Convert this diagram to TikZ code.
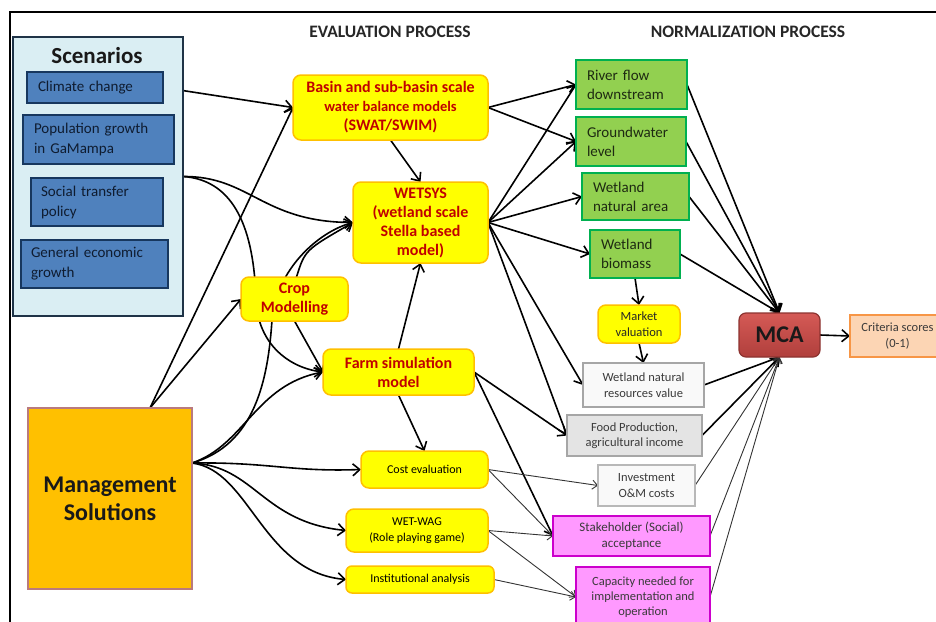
\documentclass[tikz,border=0pt]{standalone}
\usepackage{fontspec}
\setmainfont{Carlito}
\usetikzlibrary{arrows.meta}
\pgfdeclarelayer{bg}
\pgfsetlayers{bg,main}

\newcommand{\fsz}[2]{\fontsize{#1}{#2}\selectfont}

\definecolor{scenfill}{HTML}{DAEEF3}
\definecolor{scendraw}{HTML}{1F3347}
\definecolor{bluefill}{HTML}{4F81BD}
\definecolor{bluedraw}{HTML}{17375E}
\definecolor{bluetext}{HTML}{0F1C30}
\definecolor{yfill}{HTML}{FFFF00}
\definecolor{ydraw}{HTML}{FFC000}
\definecolor{redtext}{HTML}{C00000}
\definecolor{mgmtfill}{HTML}{FFC000}
\definecolor{mgmtdraw}{HTML}{B97A7E}
\definecolor{gfill}{HTML}{92D050}
\definecolor{gdraw}{HTML}{00B050}
\definecolor{gtext}{HTML}{1E2A12}
\definecolor{wfill}{HTML}{F9F9F9}
\definecolor{wdraw}{HTML}{A6A6A6}
\definecolor{foodfill}{HTML}{E4E4E4}
\definecolor{pfill}{HTML}{FF99FF}
\definecolor{pdraw}{HTML}{CC00CC}
\definecolor{mcatop}{HTML}{D55A56}
\definecolor{mcabot}{HTML}{B03F3C}
\definecolor{mcadraw}{HTML}{8C3330}
\definecolor{critfill}{HTML}{FCD5B4}
\definecolor{critdraw}{HTML}{F79646}
\definecolor{headtext}{HTML}{262626}
\definecolor{graytext}{HTML}{3A3A3A}
\definecolor{thinline}{HTML}{333333}

\tikzset{
  base/.style={inner sep=0pt, outer sep=0pt, anchor=center},
  bluebox/.style={base, draw=bluedraw, fill=bluefill, line width=1.5pt,
    inner xsep=11pt, align=left, text=bluetext, font=\fsz{15}{20}},
  ybox/.style={base, draw=ydraw, fill=yfill, line width=1.5pt,
    rounded corners=8pt, align=center},
  yred/.style={ybox, text=redtext, font=\bfseries\fsz{16}{19}},
  yplain/.style={ybox, text=black, font=\fsz{12}{16}},
  gbox/.style={base, draw=gdraw, fill=gfill, line width=1.5pt,
    inner xsep=11pt, align=left, text=gtext, font=\fsz{15}{19}},
  wbox/.style={base, draw=wdraw, fill=wfill, line width=1.5pt,
    align=center, text=graytext, font=\fsz{12.5}{15.5}},
  pbox/.style={base, draw=pdraw, fill=pfill, line width=1.5pt,
    align=center, text=graytext, font=\fsz{12.5}{15.5}},
  arr/.style={-{Straight Barb[length=7pt,width=12pt]}, line width=1.6pt, black},
  thin/.style={-{Straight Barb[length=5pt,width=9pt]}, line width=0.9pt, thinline},
}

\begin{document}
\begin{tikzpicture}[x=1pt, y=-1pt]
\useasboundingbox (0,0) rectangle (936,621);

% outer frame
\draw[line width=2pt] (10,630) -- (10,12) -- (945,12);

% column headings
\node[base, text=headtext, font=\bfseries\fsz{17.5}{20}] (hdeval) at (390,32) {EVALUATION PROCESS};
\node[base, text=headtext, font=\bfseries\fsz{17.5}{20}] (hdnorm) at (748,32) {NORMALIZATION PROCESS};

% scenarios panel
\node[base, draw=scendraw, fill=scenfill, line width=1.5pt,
      minimum width=170pt, minimum height=279pt] (scen) at (98,176.5) {};
\node[base, font=\bfseries\fsz{23}{26}, text=black!90] (scentitle) at (97,56) {Scenarios};
\node[bluebox, minimum width=136pt, minimum height=31pt, text width=114pt] (clim) at (95,87.5) {Climate change};
\node[bluebox, minimum width=151pt, minimum height=49pt, text width=129pt] (pop) at (98.5,139.5) {Population growth\\in GaMampa};
\node[bluebox, minimum width=132pt, minimum height=48pt, text width=112pt, inner xsep=10pt] (soc) at (97,202) {Social transfer\\policy};
\node[bluebox, minimum width=147pt, minimum height=48pt, text width=127pt, inner xsep=10pt] (gen) at (94.5,264) {General economic\\growth};

% management solutions
\node[base, draw=mgmtdraw, fill=mgmtfill, line width=1.5pt,
      minimum width=164pt, minimum height=181pt, align=center,
      font=\bfseries\fsz{24}{28}, text=black!90] (mgmt) at (110,498.5) {Management\\Solutions};
\coordinate (fan) at ([yshift=35.5pt]mgmt.east);

% evaluation models
\node[yred, minimum width=195pt, minimum height=65pt] (basin) at (390.5,107.5)
  {Basin and sub-basin scale\\{\fsz{14.5}{19}water balance models}\\(SWAT/SWIM)};
\node[yred, minimum width=135pt, minimum height=81pt] (wetsys) at (420.5,222.5)
  {WETSYS\\(wetland scale\\Stella based\\model)};
\node[yred, minimum width=107pt, minimum height=44pt] (crop) at (294.5,299) {Crop\\Modelling};
\node[yred, minimum width=151pt, minimum height=46pt] (farm) at (398.5,372) {Farm simulation\\model};
\node[yplain, minimum width=127pt, minimum height=37pt] (cost) at (424.5,469.5) {Cost evaluation};
\node[yplain, minimum width=142pt, minimum height=43pt] (wetwag) at (417,530.5) {WET-WAG\\(Role playing game)};
\node[yplain, minimum width=148pt, minimum height=27pt, rounded corners=6pt] (inst) at (420,579.5) {Institutional analysis};

% normalized criteria
\node[gbox, minimum width=111pt, minimum height=49pt, text width=89pt] (river) at (631.5,84.5) {River flow\\downstream};
\node[gbox, minimum width=110pt, minimum height=49pt, text width=88pt] (ground) at (631,141.5) {Groundwater\\level};
\node[gbox, minimum width=107pt, minimum height=47pt, text width=85pt] (wna) at (635.5,196.5) {Wetland\\natural area};
\node[gbox, minimum width=90pt, minimum height=48pt, text width=68pt] (biom) at (635,254) {Wetland\\biomass};
\node[ybox, minimum width=82pt, minimum height=38pt, font=\fsz{12.5}{16}, text=black!85] (market) at (639,324) {Market\\valuation};
\node[wbox, minimum width=121pt, minimum height=44pt] (wres) at (643.5,385) {Wetland natural\\resources value};
\node[wbox, fill=foodfill, minimum width=135pt, minimum height=41pt] (food) at (634.5,435.5) {Food Production,\\agricultural income};
\node[wbox, draw=wdraw!80, minimum width=97pt, minimum height=41pt] (invest) at (646.5,485.5) {Investment\\O\&M costs};
\node[pbox, minimum width=157pt, minimum height=40pt, font=\fsz{13}{16}] (stake) at (631.5,536) {Stakeholder (Social)\\acceptance};
\node[pbox, minimum width=134pt, minimum height=60pt, font=\fsz{12.5}{15}] (cap) at (643,597)
  {Capacity needed for\\implementation and\\operation};

% aggregation
\node[base, draw=mcadraw, top color=mcatop, bottom color=mcabot, line width=1.2pt,
      rounded corners=7pt, minimum width=81pt, minimum height=44pt,
      font=\bfseries\fsz{24}{26}, text=black!90] (mca) at (779.5,335) {MCA};
\node[base, draw=critdraw, fill=critfill, line width=2pt,
      minimum width=95pt, minimum height=42pt, align=center,
      font=\fsz{12.5}{16}, text=graytext] (crit) at (897.5,336) {Criteria scores\\(0-1)};

\begin{pgfonlayer}{bg}
  % scenario inputs
  \draw[arr] (clim.east) -- (basin.west);
  \draw[arr] (scen.east) .. controls (250,176) and (262,222) .. (wetsys.west);
  \draw[arr] (scen.east) .. controls (235,180) and (254,230) .. (256,300)
                         .. controls (258,345) and (290,368) .. (farm.west);
  % management inputs
  \draw[arr] ([xshift=40pt]mgmt.north) -- (basin.west);
  \draw[arr] ([xshift=40pt]mgmt.north) -- (crop.west);
  \draw[arr] (fan) .. controls (245,445) and (255,385) .. (farm.west);
  \draw[arr] (fan) .. controls (255,445) and (268,380) .. (272,320)
                   .. controls (276,270) and (318,232) .. (wetsys.west);
  \draw[arr] (fan) .. controls (270,462) and (290,472) .. (cost.west);
  \draw[arr] (fan) .. controls (255,466) and (262,522) .. (wetwag.west);
  \draw[arr] (fan) .. controls (250,470) and (262,572) .. (inst.west);
  % between models
  \draw[arr] ([xshift=2pt]crop.north) .. controls (305,250) .. (wetsys.west);
  \draw[arr] (crop.south) -- (farm.west);
  \draw[arr] (basin.south) -- (wetsys.north);
  \draw[arr] (farm.north) -- (wetsys.south);
  \draw[arr] (farm.south) -- (cost.north);
  % models to criteria
  \draw[arr] (basin.east) -- (river.west);
  \draw[arr] (basin.east) -- (ground.west);
  \draw[arr] (wetsys.east) -- (river.west);
  \draw[arr] (wetsys.east) -- (ground.west);
  \draw[arr] (wetsys.east) -- (wna.west);
  \draw[arr] (wetsys.east) -- (biom.west);
  \draw[arr] (wetsys.east) -- (wres.west);
  \draw[arr] (wetsys.east) -- (food.west);
  \draw[arr] (farm.east) -- (food.west);
  \draw[arr] (farm.east) -- (stake.west);
  \draw[thin] (cost.east) -- (invest.west);
  \draw[thin] (cost.east) -- (stake.west);
  \draw[thin] (wetwag.east) -- (stake.west);
  \draw[thin] (wetwag.east) -- (cap.west);
  \draw[thin] (inst.east) -- (cap.west);
  \draw[arr] (biom.south) -- (market.north);
  \draw[arr] (market.south) -- (wres.north);
  % criteria to MCA
  \draw[arr] (river.east) -- (mca.north);
  \draw[arr] (ground.east) -- (mca.north);
  \draw[arr] (wna.east) -- (mca.north);
  \draw[arr] (biom.east) -- (mca.north);
  \draw[arr] (wres.east) -- (mca.south);
  \draw[arr] (food.east) -- (mca.south);
  \draw[thin] (invest.east) -- (mca.south);
  \draw[thin] (stake.east) -- (mca.south);
  \draw[thin] (cap.east) -- (mca.south);
  \draw[arr] (mca.east) -- (crit.west);
\end{pgfonlayer}
\end{tikzpicture}
\end{document}
